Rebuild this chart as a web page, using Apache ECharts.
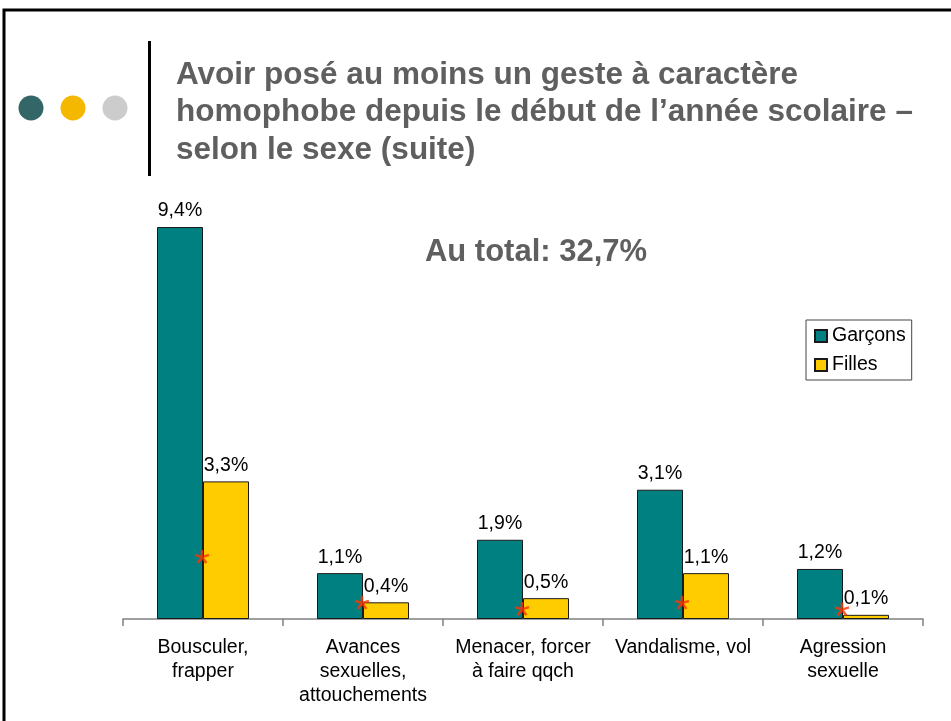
<!DOCTYPE html>
<html>
<head>
<meta charset="utf-8">
<script src="https://cdn.jsdelivr.net/npm/echarts@6/dist/echarts.min.js"></script>
<style>
  html, body { margin: 0; padding: 0; background: #fff; }
  #div_chart { width: 951px; height: 721px; }
</style>
</head>
<body>
<div id="div_chart"></div>
<script>
"use strict";

// data
const categories = ["Bousculer,\nfrapper", "Avances\nsexuelles,\nattouchements", "Menacer, forcer\nà faire qqch", "Vandalisme, vol", "Agression\nsexuelle"];
const garcons = [9.4, 1.1, 1.9, 3.1, 1.2];
const filles = [3.3, 0.4, 0.5, 1.1, 0.1];
// significance stars (height where the star is drawn)
const stars = [1.5, 0.4, 0.25, 0.4, 0.24];

const title_lines = ["Avoir posé au moins un geste à caractère", "homophobe depuis le début de l\u2019année scolaire –", "selon le sexe (suite)"];
const total_text = "Au total: 32,7%";

const font = "'Liberation Sans', Arial, sans-serif";
const html_div_chart = document.getElementById("div_chart");
const chart = echarts.init(html_div_chart);

function pct(v) {
  return v.toFixed(1).replace(".", ",") + "%";
}

const graphics = [
  // frame
  { type: "rect", shape: { x: 4, y: 10, width: 1000, height: 800 }, style: { fill: "none", stroke: "#000", lineWidth: 3 }, silent: true },
  // dots
  { type: "circle", shape: { cx: 31, cy: 108, r: 12.5 }, style: { fill: "#336666" } },
  { type: "circle", shape: { cx: 73, cy: 108, r: 12.5 }, style: { fill: "#f5b800" } },
  { type: "circle", shape: { cx: 115, cy: 108, r: 12.5 }, style: { fill: "#cccccc" } },
  // vertical bar
  { type: "rect", shape: { x: 148, y: 41, width: 3, height: 135 }, style: { fill: "#000" } },
  { type: "text", x: 536, y: 252, style: { text: total_text, font: "bold 31px " + font, fill: "#5f5f5f", align: "center", verticalAlign: "middle" } },
];
title_lines.forEach(function (line, i) {
  graphics.push({
    type: "text", x: 176, y: 75 + i * 37.5,
    style: { text: line, font: "bold 31.5px " + font, fill: "#5f5f5f", verticalAlign: "middle" },
  });
});

chart.setOption({
  animation: false,
  textStyle: { fontFamily: font },
  grid: { left: 123, right: 28, top: 202, bottom: 102 },
  legend: {
    data: ["Garçons", "Filles"],
    orient: "vertical",
    left: 806,
    top: 320,
    padding: [6, 6, 5, 8],
    itemWidth: 12,
    itemHeight: 12,
    itemGap: 9,
    icon: "rect",
    borderColor: "#444",
    borderWidth: 1,
    backgroundColor: "#fff",
    borderRadius: 0,
    textStyle: { fontSize: 19.5, color: "#000", lineHeight: 19 },
  },
  xAxis: {
    type: "category",
    data: categories,
    axisLine: { lineStyle: { color: "#808080", width: 1.5 } },
    axisTick: { show: true, length: 7, lineStyle: { color: "#808080", width: 1.5 } },
    axisLabel: { fontSize: 19.5, color: "#000", lineHeight: 24, margin: 17, interval: 0 },
  },
  yAxis: {
    type: "value",
    min: 0,
    max: 10,
    show: false,
    splitLine: { show: false },
  },
  series: [
    {
      type: "bar",
      name: "Garçons",
      data: garcons,
      barGap: "0%",
      barCategoryGap: "42.5%",
      itemStyle: { color: "#008080", borderColor: "#1a1a1a", borderWidth: 1 },
      label: { show: true, position: "top", distance: 6, fontSize: 19.5, color: "#000", formatter: function (p) { return pct(p.value); } },
    },
    {
      type: "bar",
      name: "Filles",
      data: filles,
      itemStyle: { color: "#ffcc00", borderColor: "#1a1a1a", borderWidth: 1 },
      label: { show: true, position: "top", distance: 6, fontSize: 19.5, color: "#000", formatter: function (p) { return pct(p.value); } },
    },
    {
      type: "scatter",
      data: stars,
      symbol: "path://M0,0L0,-6M0,0L5.71,-1.85M0,0L3.53,4.85M0,0L-3.53,4.85M0,0L-5.71,-1.85",
      symbolSize: [14, 13],
      symbolOffset: [-1, 0],
      itemStyle: { color: "rgba(0,0,0,0)", borderColor: "#ff3300", borderWidth: 2.5 },
      z: 5,
    },
  ],
  graphic: graphics,
});
</script>
</body>
</html>
